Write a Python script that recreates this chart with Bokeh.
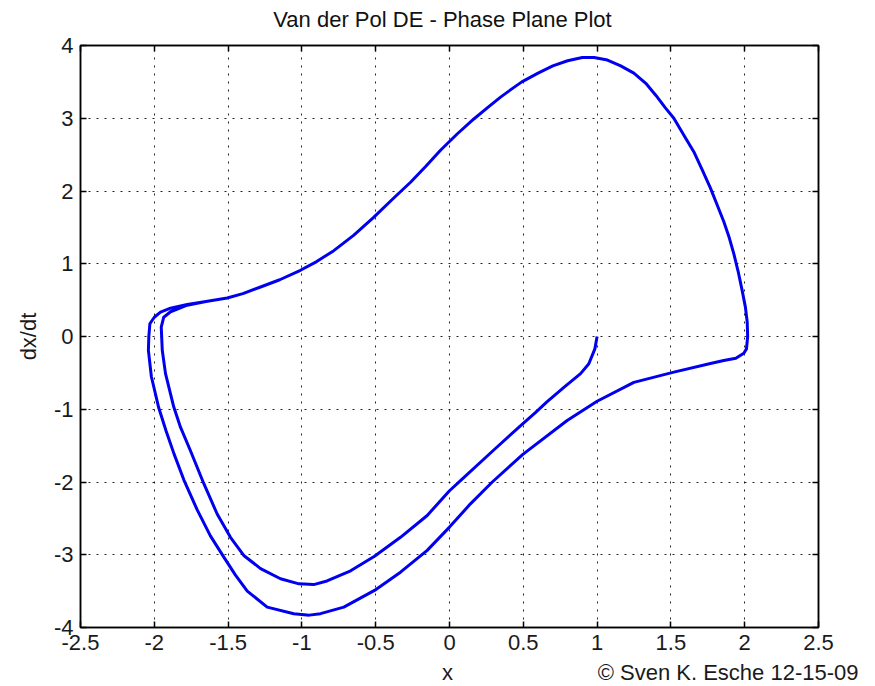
from bokeh.plotting import figure
from bokeh.layouts import column
from bokeh.models import LinearAxis, FixedTicker, Label, Range1d
from bokeh.embed import file_html
from bokeh.resources import INLINE

# Trajectory (x, dx/dt), in drawing order
x_vals = [
    # start at (1, 0), inner path down-left
    1.0, 0.985, 0.944, 0.888, 0.775, 0.66, 0.58, 0.49, 0.30, 0.08, 0.0,
    -0.151, -0.332, -0.508, -0.67, -0.83, -0.92, -1.02, -1.145, -1.28, -1.394,
    -1.484, -1.574, -1.665, -1.755, -1.822, -1.868, -1.924, -1.946, -1.953,
    -1.936, -1.89, -1.777,
    # upper arc
    -1.65, -1.506, -1.40, -1.28, -1.15, -1.01, -0.90, -0.784, -0.65, -0.512,
    -0.39, -0.264, -0.16, -0.061, 0.05, 0.165, 0.26, 0.346, 0.42, 0.49,
    0.60, 0.70, 0.80, 0.90, 0.98, 1.07, 1.16, 1.249, 1.33, 1.40, 1.46, 1.52,
    1.59, 1.655, 1.71, 1.768, 1.815, 1.858, 1.895, 1.926, 1.955, 1.983, 2.005,
    2.017, 2.02,
    # lower right branch to outer bottom
    2.012, 1.994, 1.94, 1.858, 1.768, 1.52, 1.249, 1.0, 0.797,
    0.497, 0.29, 0.142, 0.0, -0.151, -0.332, -0.508, -0.716, -0.874, -0.95,
    -1.055, -1.235, -1.37, -1.45, -1.53, -1.62, -1.71, -1.80, -1.867, -1.92,
    -1.97, -2.02, -2.04, -2.037, -2.03, -2.0, -1.958, -1.89, -1.777,
    # upper arc again
    -1.65, -1.506, -1.40, -1.28, -1.15, -1.01, -0.90, -0.784, -0.65, -0.512,
    -0.39, -0.264, -0.16, -0.061, 0.05, 0.165, 0.26, 0.346, 0.42, 0.49,
    0.60, 0.70, 0.80, 0.90, 0.98, 1.07, 1.16, 1.249, 1.33, 1.40, 1.46, 1.52,
    1.59, 1.655, 1.71, 1.768, 1.815, 1.858, 1.895, 1.926, 1.955, 1.983, 2.005,
    2.017, 2.02,
]
y_vals = [
    0.0, -0.17, -0.375, -0.51, -0.70, -0.90, -1.05, -1.21, -1.56, -1.97, -2.12,
    -2.46, -2.76, -3.02, -3.22, -3.36, -3.41, -3.40, -3.33, -3.19, -3.01,
    -2.76, -2.44, -2.02, -1.57, -1.25, -0.97, -0.51, -0.19, 0.13,
    0.265, 0.34, 0.43,
    0.48, 0.53, 0.59, 0.68, 0.78, 0.91, 1.03, 1.18, 1.39, 1.64,
    1.88, 2.12, 2.34, 2.56, 2.78, 2.99, 3.15, 3.29, 3.40, 3.50,
    3.62, 3.72, 3.79, 3.835, 3.835, 3.80, 3.72, 3.62, 3.48, 3.31, 3.15, 3.0,
    2.76, 2.54, 2.30, 2.04, 1.80, 1.58, 1.36, 1.14, 0.90, 0.63, 0.40,
    0.20, 0.0,
    -0.17, -0.23, -0.30, -0.33, -0.37, -0.49, -0.63, -0.89, -1.155,
    -1.62, -2.0, -2.30, -2.62, -2.94, -3.24, -3.49, -3.72, -3.81, -3.83,
    -3.81, -3.72, -3.50, -3.28, -3.03, -2.74, -2.38, -1.97, -1.61, -1.30,
    -0.98, -0.55, -0.19, 0.0, 0.175, 0.265, 0.335, 0.39, 0.44,
    0.48, 0.53, 0.59, 0.68, 0.78, 0.91, 1.03, 1.18, 1.39, 1.64,
    1.88, 2.12, 2.34, 2.56, 2.78, 2.99, 3.15, 3.29, 3.40, 3.50,
    3.62, 3.72, 3.79, 3.835, 3.835, 3.80, 3.72, 3.62, 3.48, 3.31, 3.15, 3.0,
    2.76, 2.54, 2.30, 2.04, 1.80, 1.58, 1.36, 1.14, 0.90, 0.63, 0.40,
    0.20, 0.0,
]

x_ticks = [-2.5, -2, -1.5, -1, -0.5, 0, 0.5, 1, 1.5, 2, 2.5]
x_tick_labels = ["-2.5", "-2", "-1.5", "-1", "-0.5", "0", "0.5", "1", "1.5", "2", "2.5"]
y_ticks = [-4, -3, -2, -1, 0, 1, 2, 3, 4]
y_tick_labels = ["-4", "-3", "-2", "-1", "0", "1", "2", "3", "4"]

title_text = "Van der Pol DE - Phase Plane Plot"
x_label_text = "x"
y_label_text = "dx/dt"
credit_text = "\u00a9 Sven K. Esche 12-15-09"

FONT = "Liberation Sans"
FS = "22px"
TXT = "#1a1a1a"
W = 870


def strip(h):
    s = figure(width=W, height=h, x_range=Range1d(0, 1), y_range=Range1d(0, 1),
               output_backend="svg", toolbar_location=None,
               x_axis_location=None, y_axis_location=None, min_border=0,
               frame_align=False)
    s.grid.visible = False
    s.outline_line_color = None
    return s


top_strip = strip(32)
top_strip.add_layout(Label(x=442, y=13, x_units="screen", y_units="screen",
                           text=title_text, text_font=FONT, text_font_size=FS,
                           text_align="center", text_baseline="middle", text_color="#111111"))

p = figure(width=W, height=627,
           x_range=Range1d(x_ticks[0], x_ticks[-1]),
           y_range=Range1d(y_ticks[0], y_ticks[-1]),
           output_backend="svg", toolbar_location=None,
           min_border_left=80, min_border_right=52,
           min_border_top=13, min_border_bottom=32,
           x_axis_location=None, y_axis_location=None,
           frame_align=False)
p.outline_line_color = "black"
p.outline_line_width = 1.5

xt = FixedTicker(ticks=x_ticks)
yt = FixedTicker(ticks=y_ticks)


def style_axis(ax, labels, show_labels):
    ax.major_tick_in = 6
    ax.major_tick_out = 0
    ax.minor_tick_line_color = None
    ax.axis_line_color = "black"
    ax.axis_line_width = 1.5
    ax.major_tick_line_color = "black"
    ax.major_tick_line_width = 1.5
    if show_labels:
        ax.major_label_overrides = labels
        ax.major_label_text_font = FONT
        ax.major_label_text_font_size = FS
        ax.major_label_text_color = TXT
    else:
        ax.major_label_text_font_size = "0px"
        ax.major_label_text_color = None
        ax.major_label_standoff = 0


bottom = LinearAxis(ticker=xt)
style_axis(bottom, {t: l for t, l in zip(x_ticks, x_tick_labels)}, True)
bottom.major_label_standoff = 7
left = LinearAxis(ticker=yt)
style_axis(left, {t: l for t, l in zip(y_ticks, y_tick_labels)}, True)
left.major_label_standoff = 7
left.axis_label = y_label_text
left.axis_label_text_font = FONT
left.axis_label_text_font_size = FS
left.axis_label_text_font_style = "normal"
left.axis_label_text_color = TXT
left.axis_label_standoff = 10
top = LinearAxis(ticker=xt)
style_axis(top, {}, False)
right = LinearAxis(ticker=yt)
style_axis(right, {}, False)
p.add_layout(bottom, "below")
p.add_layout(left, "left")
p.add_layout(top, "above")
p.add_layout(right, "right")

p.xgrid.ticker = xt
p.ygrid.ticker = yt
for g in (p.xgrid, p.ygrid):
    g.grid_line_color = "black"
    g.grid_line_dash = "2 6"
    g.grid_line_width = 1
    g.grid_line_alpha = 0.85

p.line(x_vals, y_vals, line_color="#0000ee", line_width=3, line_join="round")

bottom_strip = strip(26)
bottom_strip.add_layout(Label(x=447, y=13, x_units="screen", y_units="screen",
                              text=x_label_text, text_font=FONT, text_font_size=FS,
                              text_align="center", text_baseline="middle", text_color=TXT))
bottom_strip.add_layout(Label(x=858, y=13, x_units="screen", y_units="screen",
                              text=credit_text, text_font=FONT, text_font_size=FS,
                              text_align="right", text_baseline="middle", text_color=TXT))

layout = column(top_strip, p, bottom_strip)
open("out.html", "w").write(file_html(layout, INLINE))
